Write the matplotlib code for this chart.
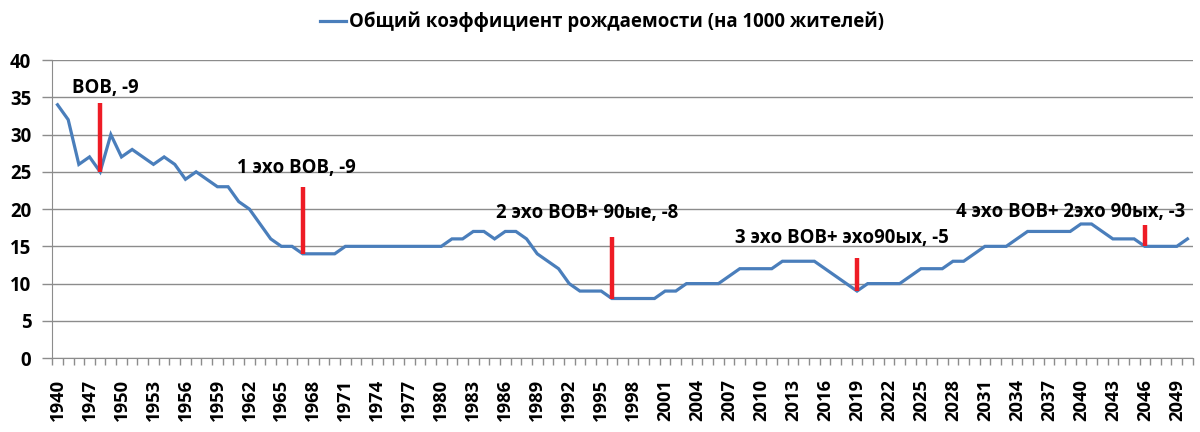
import matplotlib
matplotlib.use('Agg')
import matplotlib.pyplot as plt
from matplotlib.ticker import MultipleLocator, FixedLocator

plt.rcParams['font.family'] = ['Open Sans', 'DejaVu Sans']
plt.rcParams['font.weight'] = 'bold'

# categories (only every 3rd label shown on the axis)
years = ['1940', '1945', '1946'] + [str(y) for y in range(1947, 2051)]

# birth rate per 1000 people
rate = [34, 32, 26, 27, 25, 30, 27, 28, 27, 26,
        27, 26, 24, 25, 24, 23, 23, 21, 20, 18,
        16, 15, 15, 14, 14, 14, 14, 15, 15, 15,
        15, 15, 15, 15, 15, 15, 15, 16, 16, 17,
        17, 16, 17, 17, 16, 14, 13, 12, 10, 9,
        9, 9, 8, 8, 8, 8, 8, 9, 9, 10,
        10, 10, 10, 11, 12, 12, 12, 12, 13, 13,
        13, 13, 12, 11, 10, 9, 10, 10, 10, 10,
        11, 12, 12, 12, 13, 13, 14, 15, 15, 15,
        16, 17, 17, 17, 17, 17, 18, 18, 17, 16,
        16, 16, 15, 15, 15, 15, 16]

# "echo" dips: year, drop marker height, label
dip_years = ['1948', '1967', '1996', '2019', '2046']
dip_height = [9.3, 9, 8.3, 4.4, 2.9]
dip_labels = ['ВОВ, -9', '1 эхо ВОВ, -9', '2 эхо ВОВ+ 90ые, -8',
              '3 эхо ВОВ+ эхо90ых, -5', '4 эхо ВОВ+ 2эхо 90ых, -3']

legend_label = 'Общий коэффициент рождаемости (на 1000 жителей)'

blue = '#4A7EBB'
grid_gray = '#8C8C8C'

fig = plt.figure(figsize=(12, 4.32), dpi=100)
ax = fig.add_axes([0.0435, 0.171, 0.9505, 0.69])

x = list(range(len(years)))
line, = ax.plot(x, rate, color=blue, lw=2.3, label=legend_label,
                solid_joinstyle='miter', zorder=3)

# red dip markers
for yr, h in zip(dip_years, dip_height):
    i = years.index(yr)
    ax.vlines(i, rate[i], rate[i] + h, color='#EE1C25', lw=3.2, zorder=4)

# label placement (left edge in category units, vertical centre in data units)
label_pos = [(1.4, 36.3), (16.8, 25.5), (41.1, 19.5), (63.6, 16.1), (84.3, 19.6)]
for txt, (lx, ly) in zip(dip_labels, label_pos):
    ax.text(lx, ly, txt, fontsize=13.4, fontweight='bold', ha='left', va='center',
            color='black', zorder=5)

ax.set_xlim(-0.5, len(years) - 0.5)
ax.set_ylim(0, 40)
ax.yaxis.set_major_locator(MultipleLocator(5))
ax.grid(axis='y', color=grid_gray, lw=1.0)
ax.set_axisbelow(True)

# category boundary ticks + labels every 3rd category
ax.xaxis.set_major_locator(FixedLocator([i - 0.5 for i in range(len(years) + 1)]))
ax.xaxis.set_major_formatter(plt.NullFormatter())
ax.tick_params(axis='x', which='major', length=5, color=grid_gray, width=1)
label_idx = list(range(0, len(years), 3))
ax.xaxis.set_minor_locator(FixedLocator(label_idx))
ax.set_xticklabels([years[i] for i in label_idx], minor=True, rotation=90,
                   fontsize=13.2, fontweight='bold')
ax.tick_params(axis='x', which='minor', length=0, pad=15)

ax.tick_params(axis='y', length=7, color=grid_gray, width=1, labelsize=13.4, pad=8)
for lab in ax.get_yticklabels():
    lab.set_fontweight('bold')

for side in ['top', 'right']:
    ax.spines[side].set_visible(False)
ax.spines['left'].set_color(grid_gray)
ax.spines['bottom'].set_color(grid_gray)

fig.legend(handles=[line], loc='center', bbox_to_anchor=(0.502, 0.949),
           frameon=False, prop={'size': 13.4, 'weight': 'bold'},
           handlelength=1.35, handletextpad=0.2)

fig.savefig('out.png', dpi=100)
